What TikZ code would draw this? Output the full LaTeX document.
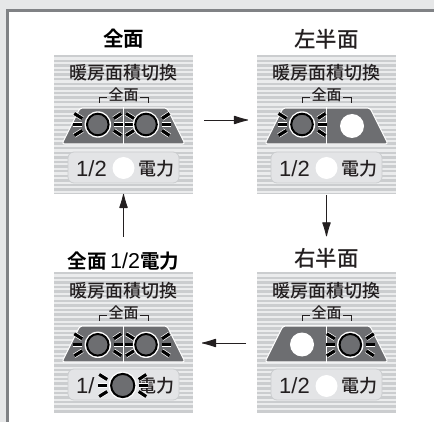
\documentclass[tikz,border=0pt]{standalone}
\usepackage{fontspec}
\setmainfont{Liberation Sans}
\newfontfamily\cjk{Noto Sans CJK JP Medium}
\newfontfamily\cjkbold{Noto Sans CJK JP Bold}
\usetikzlibrary{calc,arrows.meta}
\definecolor{pagegray}{HTML}{E6E7E8}
\definecolor{framegray}{HTML}{808285}
\definecolor{stripegray}{HTML}{CBCDCF}
\definecolor{stripelight}{HTML}{EBECED}
\definecolor{buttongray}{HTML}{E3E4E6}
\definecolor{lampgray}{HTML}{6D6E71}
\definecolor{ink}{HTML}{231F20}
\tikzset{
  x=1pt,y=-1pt,
  panelbox/.style={minimum width=139pt,minimum height=#1,inner sep=0pt,outer sep=0pt,draw=none,fill=stripelight,
    path picture={\foreach \i in {0,...,31}{\fill[stripegray] ($(path picture bounding box.north west)+(0,\i*4.6)$) rectangle +(139,2.5);}}},
  paneltitle/.style={font=\fontsize{18}{18}\selectfont\cjk,text=ink,inner sep=0pt},
  smalltitle/.style={font=\fontsize{15}{15}\selectfont\cjk,text=ink,inner sep=0pt},
  steptitle/.style={font=\fontsize{21.5}{21.5}\selectfont\cjk,text=ink,inner sep=0pt},
  boldtitle/.style={font=\fontsize{20.5}{20.5}\selectfont\cjkbold,text=black,inner sep=0pt},
  latintext/.style={font=\fontsize{22}{22}\selectfont,text=ink,inner sep=0pt},
  powertext/.style={font=\fontsize{18}{18}\selectfont\cjk,text=ink,inner sep=0pt},
  flow/.style={draw=ink,line width=0.9pt,-{Latex[length=16pt,width=9pt,round=false]}},
  raywhite/.style={draw=white,line width=4.6pt},
  rayblack/.style={draw=black,line width=3.2pt},
}
\newcommand{\panelhead}[3]{%
  \begin{scope}[shift={(#1,#2)}]
    \node[paneltitle] (#3head) at (69.5,18) {暖房面積切換};
    \node[smalltitle] (#3sub) at (69.5,40) {全面};
    \draw[ink,line width=0.9pt] (45,48) -- (45,42) -- (53,42);
    \draw[ink,line width=0.9pt] (86,42) -- (94,42) -- (94,48);
    \draw[fill=lampgray,draw=white,line width=1.1pt,rounded corners=2.5pt,line join=round]
      (26,53) -- (113,53) -- (131,89) -- (8,89) -- cycle;
    \draw[white,line width=1.6pt] (69.5,52.5) -- (69.5,89.5);
  \end{scope}}
\newcommand{\powerbutton}[5]{%
  \begin{scope}[shift={(#1,#2)}]
    \draw[fill=buttongray,draw=stripegray,line width=0.8pt,rounded corners=6pt] (14,97) rectangle (125,128);
    \node[latintext,anchor=west] (#3half) at (#4) {#5};
    \node[powertext] (#3pow) at (102,114) {電力};
  \end{scope}}
\newcommand{\whitedot}[3]{\fill[white] (#1,#2) circle[radius=#3];}
% #1 x, #2 y, #3 inward shift of the left rays, #4 ring radius
\newcommand{\lamp}[4]{%
  \begin{scope}[shift={(#1,#2)}]
    \foreach \s in {raywhite,rayblack}{
      \draw[\s] (16,0) -- (25,0);
      \draw[\s] (16,-6) -- (23.5,-11);
      \draw[\s] (16,6) -- (23.5,11);
      \draw[\s] (-15.5+#3,0) -- (-24.5+#3,0);
      \draw[\s] (-15.5+#3,-6) -- (-23.5+#3,-11);
      \draw[\s] (-15.5+#3,6) -- (-23.5+#3,11);}
    \fill[white] (0,0) circle[radius=#4+2.4];
    \draw[fill=lampgray,draw=black,line width=2pt] (0,0) circle[radius=#4];
  \end{scope}}
\begin{document}
\begin{tikzpicture}
\useasboundingbox (0,0) rectangle (434,422);
\fill[pagegray] (0,0) rectangle (434,422);
\fill[white] (7,10.5) rectangle (434,422);
\draw[framegray,line width=3pt] (7,422) -- (7,10.5) -- (434,10.5);

\node[panelbox=139pt] (pA) at (123.5,124.5) {};
\node[panelbox=139pt] (pB) at (326.5,124.5) {};
\node[panelbox=140pt] (pC) at (326.5,342) {};
\node[panelbox=140pt] (pD) at (123.5,342) {};

\node[boldtitle] (tA) at (123.5,39) {全面};
\node[steptitle] (tB) at (326.5,39) {左半面};
\node[steptitle] (tC) at (326.5,258.5) {右半面};
\node[boldtitle,font=\fontsize{19.5}{19.5}\selectfont\cjkbold] (tD) at (123.5,261) {全面\,{\cjk\rmfamily\fontsize{21.5}{21.5}\selectfont 1/2}電力};

\panelhead{54}{55}{a}
\lamp{97.8}{124.5}{0}{10.8}
\lamp{146}{124.5}{3.5}{10.8}
\powerbutton{54}{55}{a}{22,114}{1/2}
\whitedot{123.5}{168}{11}

\panelhead{257}{55}{b}
\lamp{302}{124.5}{0}{10.8}
\whitedot{352}{126}{12}
\powerbutton{257}{55}{b}{22,114}{1/2}
\whitedot{326.5}{168}{11}

\panelhead{257}{273}{c}
\lamp{350.3}{344.8}{0}{10.8}
\whitedot{302}{344.5}{12}
\powerbutton{257}{272}{c}{22,114}{1/2}
\whitedot{326.5}{386}{11}

\panelhead{54}{273}{d}
\lamp{97.8}{344.8}{0}{10.8}
\lamp{146}{344.8}{3.5}{10.8}
\powerbutton{54}{272}{d}{22,114}{1/}
\lamp{122.7}{385.5}{0}{11.6}

\draw[flow,shorten <=11pt,shorten >=9pt] (pA.east |- 0,120) -- (pB.west |- 0,120);
\draw[flow,shorten <=1pt,shorten >=12pt] (pB.south) -- (tC.north);
\draw[flow,shorten <=11pt,shorten >=9pt] (pC.west |- 0,343) -- (pD.east |- 0,343);
\draw[flow,shorten <=15pt,shorten >=0pt] (tD.north -| pA.south) -- (pA.south);
\end{tikzpicture}
\end{document}
